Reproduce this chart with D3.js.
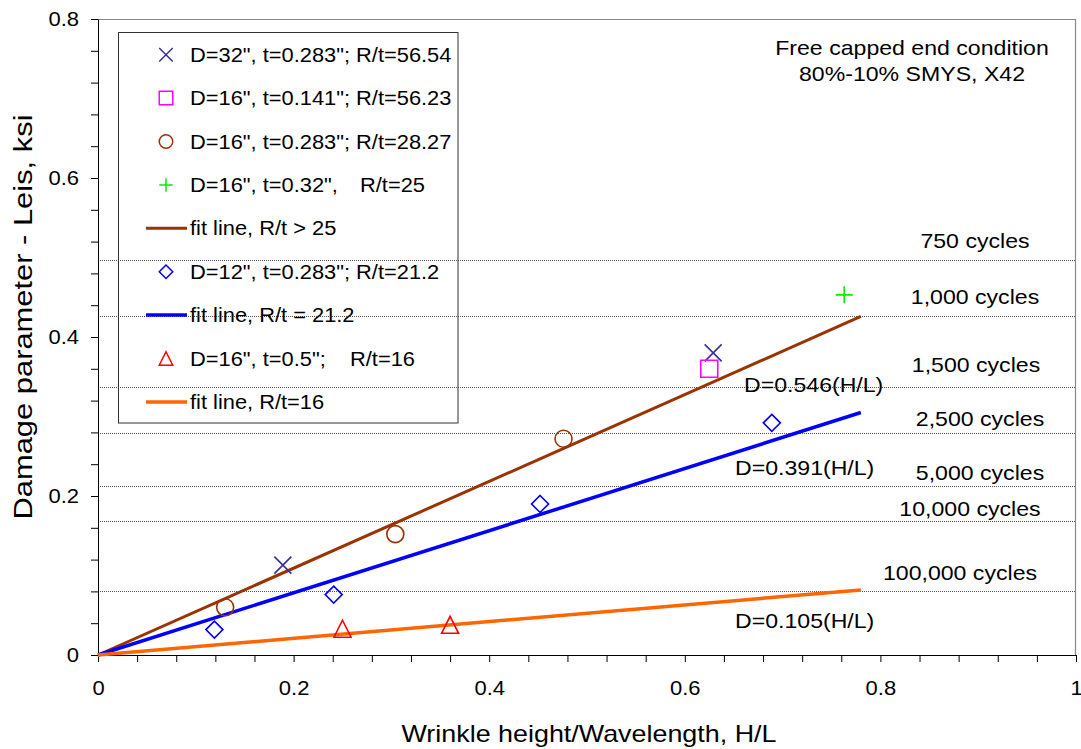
<!DOCTYPE html>
<html>
<head>
<meta charset="utf-8">
<script src="https://cdn.jsdelivr.net/npm/d3@7"></script>
<style>
  html, body { margin: 0; padding: 0; background: #fff; }
  svg { display: block; font-family: "Liberation Sans", Arial, Helvetica, sans-serif; }
</style>
</head>
<body>
<svg id="chart" width="1081" height="749"></svg>
<script>
// ---------------- data ----------------
const xD32 = [0.189, 0.629];           const yD32 = [0.113, 0.380];
const xD16t141 = [0.625];              const yD16t141 = [0.360];
const xD16t283 = [0.130, 0.304, 0.476];const yD16t283 = [0.060, 0.152, 0.272];
const xD16t32 = [0.763];               const yD16t32 = [0.453];
const xD12 = [0.119, 0.241, 0.452, 0.689]; const yD12 = [0.032, 0.076, 0.190, 0.292];
const xD16t5 = [0.250, 0.360];         const yD16t5 = [0.033, 0.038];

const fitSlopes = [0.546, 0.391, 0.105];
const fitLabels = ["D=0.546(H/L)", "D=0.391(H/L)", "D=0.105(H/L)"];
const fitXMax = 0.78;

const cycleLevels = [0.497, 0.426, 0.337, 0.279, 0.213, 0.169, 0.080];
const cycleLabels = ["750 cycles", "1,000 cycles", "1,500 cycles", "2,500 cycles",
                     "5,000 cycles", "10,000 cycles", "100,000 cycles"];

const legendLabels = [
  ['D=32", t=0.283"; R/t=56.54', ''],
  ['D=16", t=0.141"; R/t=56.23', ''],
  ['D=16", t=0.283"; R/t=28.27', ''],
  ['D=16", t=0.32",', 'R/t=25'],
  ['fit line, R/t > 25', ''],
  ['D=12", t=0.283"; R/t=21.2', ''],
  ['fit line, R/t = 21.2', ''],
  ['D=16", t=0.5";', 'R/t=16'],
  ['fit line, R/t=16', '']
];
const xTickLabels = [0, 0.2, 0.4, 0.6, 0.8, 1];
const yTickLabels = [0, 0.2, 0.4, 0.6, 0.8];
const titleLines = ["Free capped end condition", "80%-10% SMYS, X42"];
const xTitle = "Wrinkle height/Wavelength, H/L";
const yTitle = "Damage parameter - Leis, ksi";

// ---------------- layout / style ----------------
const cycleLabelPos = [[975, -12], [975, -12.5], [976, -15], [980, -7], [980, -5.5], [970, -5], [960, -11]];
const fitLabelPos = [[744, 392], [735, 475], [735, 628]];
const fitColors = ["#993300", "#0000FF", "#FF6600"];
const fitWidths = [3, 3.5, 3.5];

const svg = d3.select("#chart");
const x = d3.scaleLinear().domain([0, 1]).range([98, 1076]);
const y = d3.scaleLinear().domain([0, 0.8]).range([655, 19]);

function stretch(sel, f) {
  sel.each(function () {
    const l = this.getComputedTextLength();
    d3.select(this).attr("textLength", l * f).attr("lengthAdjust", "spacingAndGlyphs");
  });
  return sel;
}

// marker path generators (centered at 0,0, size s)
const markers = {
  x: s => { const h = s / 2; return `M${-h},${-h}L${h},${h}M${-h},${h}L${h},${-h}`; },
  plus: s => { const h = s / 2; return `M${-h},0L${h},0M0,${-h}L0,${h}`; },
  square: s => { const h = s / 2; return `M${-h},${-h}H${h}V${h}H${-h}Z`; },
  circle: s => { const r = s / 2; return `M${r},0A${r},${r} 0 1,1 ${-r},0A${r},${r} 0 1,1 ${r},0Z`; },
  diamond: s => { const h = s / 2; return `M0,${-h}L${h},0L0,${h}L${-h},0Z`; },
  triangle: s => { const h = s / 2; return `M0,${-h}L${h},${h}L${-h},${h}Z`; }
};

const pointSeries = [
  { xs: xD32, ys: yD32, m: "x", c: "#333399" },
  { xs: xD16t141, ys: yD16t141, m: "square", c: "#FF00FF" },
  { xs: xD16t283, ys: yD16t283, m: "circle", c: "#993300" },
  { xs: xD16t32, ys: yD16t32, m: "plus", c: "#00EE00" },
  { xs: xD12, ys: yD12, m: "diamond", c: "#0000FF" },
  { xs: xD16t5, ys: yD16t5, m: "triangle", c: "#FF0000" }
];

// ---------------- gridlines ----------------
svg.append("g").selectAll("line").data(cycleLevels).join("line")
  .attr("x1", x(0) + 2).attr("x2", x(1))
  .attr("y1", d => Math.round(y(d)) + 0.5).attr("y2", d => Math.round(y(d)) + 0.5)
  .attr("stroke", "#555").attr("stroke-width", 1).attr("stroke-dasharray", "1,1");

// frame top/right
svg.append("path")
  .attr("d", `M${x(0)},${y(0.8) + 0.5}H${x(1) - 0.5}V${y(0)}`)
  .attr("fill", "none").attr("stroke", "#888").attr("stroke-width", 1.2);

// ---------------- axes ----------------
const yAxis = d3.axisLeft(y)
  .tickValues(d3.range(0, 0.8001, 0.04))
  .tickSize(7).tickSizeOuter(0).tickPadding(12)
  .tickFormat(d => yTickLabels.some(v => Math.abs(v - d) < 1e-6) ? d3.format("~g")(+d.toFixed(2)) : "");
const gy = svg.append("g").attr("transform", `translate(${x(0)},0)`).call(yAxis);
gy.selectAll("text").attr("font-size", 20).attr("fill", "#000").attr("font-family", "Liberation Sans, Arial, sans-serif");
gy.selectAll("line,path").attr("stroke", "#000");

const xAxis = d3.axisBottom(x)
  .tickValues(d3.range(0, 1.0001, 0.04))
  .tickSize(7).tickSizeOuter(0).tickPadding(19)
  .tickFormat(d => xTickLabels.some(v => Math.abs(v - d) < 1e-6) ? d3.format("~g")(+d.toFixed(2)) : "");
const gx = svg.append("g").attr("transform", `translate(0,${y(0)})`).call(xAxis);
gx.selectAll("text").attr("font-size", 20).attr("fill", "#000").attr("font-family", "Liberation Sans, Arial, sans-serif");
gx.selectAll("line,path").attr("stroke", "#000");
stretch(gy.selectAll("text").filter(function () { return this.textContent !== ""; }), 1.1);
stretch(gx.selectAll("text").filter(function () { return this.textContent !== ""; }), 1.1);

// ---------------- fit lines ----------------
svg.append("g").selectAll("line").data(fitSlopes).join("line")
  .attr("x1", x(0)).attr("y1", y(0))
  .attr("x2", x(fitXMax)).attr("y2", d => y(d * fitXMax))
  .attr("stroke", (d, i) => fitColors[i]).attr("stroke-width", (d, i) => fitWidths[i]);

// ---------------- points ----------------
pointSeries.forEach(s => {
  svg.append("g").selectAll("path").data(s.xs.map((v, i) => [v, s.ys[i]])).join("path")
    .attr("transform", d => `translate(${x(d[0])},${y(d[1])})`)
    .attr("d", markers[s.m](17))
    .attr("fill", "none").attr("stroke", s.c).attr("stroke-width", 1.6);
});

// ---------------- annotations ----------------
svg.append("g").selectAll("text").data(cycleLabels).join("text")
  .attr("x", (d, i) => cycleLabelPos[i][0])
  .attr("y", (d, i) => y(cycleLevels[i]) + cycleLabelPos[i][1])
  .attr("text-anchor", "middle").attr("font-size", 21).attr("fill", "#000")
  .text(d => d).call(stretch, 1.1);

svg.append("g").selectAll("text").data(fitLabels).join("text")
  .attr("x", (d, i) => fitLabelPos[i][0]).attr("y", (d, i) => fitLabelPos[i][1])
  .attr("font-size", 21).attr("fill", "#000")
  .text(d => d).call(stretch, 1.1);

svg.append("g").selectAll("text").data(titleLines).join("text")
  .attr("x", 912).attr("y", (d, i) => 55 + i * 26)
  .attr("text-anchor", "middle").attr("font-size", 21).attr("fill", "#000")
  .text(d => d).call(stretch, 1.1);

// axis titles
svg.append("text").attr("x", 589).attr("y", 742).attr("text-anchor", "middle")
  .attr("font-size", 24).attr("fill", "#000").text(xTitle).call(stretch, 1.12);
svg.append("text").attr("transform", "translate(32,317) rotate(-90)").attr("text-anchor", "middle")
  .attr("font-size", 26).attr("fill", "#000").text(yTitle)
  .each(function () { d3.select(this).attr("textLength", 405).attr("lengthAdjust", "spacingAndGlyphs"); });

// ---------------- legend ----------------
const lg = svg.append("g");
lg.append("rect").attr("x", 118.5).attr("y", 32.5).attr("width", 339.5).attr("height", 390.5)
  .attr("fill", "none").attr("stroke", "#333").attr("stroke-width", 1);
const legendKeys = [
  { m: "x", c: "#333399" }, { m: "square", c: "#FF00FF" }, { m: "circle", c: "#993300" },
  { m: "plus", c: "#00EE00" }, { line: 0 }, { m: "diamond", c: "#0000FF" }, { line: 1 },
  { m: "triangle", c: "#FF0000" }, { line: 2 }
];
const rowY = i => 54.7 + i * 43.4;
legendLabels.forEach((lab, i) => {
  const k = legendKeys[i];
  const cy = rowY(i);
  if (k.line !== undefined) {
    lg.append("line").attr("x1", 146).attr("x2", 187).attr("y1", cy).attr("y2", cy)
      .attr("stroke", fitColors[k.line]).attr("stroke-width", fitWidths[k.line]);
  } else {
    lg.append("path").attr("transform", `translate(166,${cy})`).attr("d", markers[k.m](13.5))
      .attr("fill", "none").attr("stroke", k.c).attr("stroke-width", 1.5);
  }
  lg.append("text").attr("x", 190).attr("y", cy + 7).attr("font-size", 19.5).attr("fill", "#000")
    .text(lab[0]).call(stretch, 1.12);
  if (lab[1]) {
    lg.append("text").attr("x", i === 3 ? 360 : 350).attr("y", cy + 7).attr("font-size", 19.5).attr("fill", "#000")
      .text(lab[1]).call(stretch, 1.12);
  }
});
</script>
</body>
</html>
